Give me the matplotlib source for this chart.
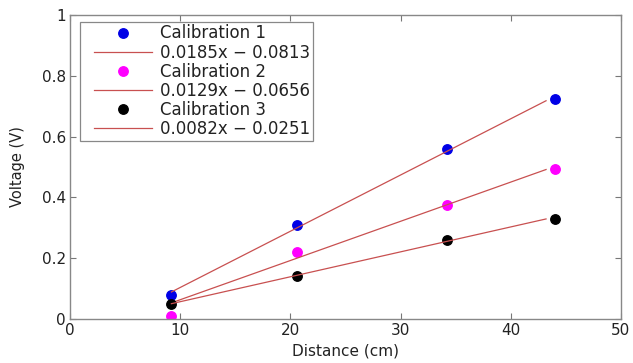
import matplotlib
matplotlib.use("Agg")
import matplotlib.pyplot as plt
from matplotlib.lines import Line2D
from matplotlib.legend_handler import HandlerLine2D
import numpy as np

plt.rcParams['font.family'] = ['DejaVu Sans']

distance = [9.2, 20.6, 34.2, 44.0]
cal1 = [0.08, 0.31, 0.56, 0.725]
cal2 = [0.01, 0.22, 0.375, 0.495]
cal3 = [0.05, 0.14, 0.26, 0.33]
slopes = [0.0185, 0.0129, 0.0082]
intercepts = [-0.0813, -0.0656, -0.0251]
fit_range = [9.2, 43.2]
names = ['Calibration 1', 'Calibration 2', 'Calibration 3']
fit_labels = ['0.0185x \u2212 0.0813', '0.0129x \u2212 0.0656', '0.0082x \u2212 0.0251']
colors = ['#0000e6', '#ff00ff', '#000000']

fig = plt.figure(figsize=(6.33, 3.63), dpi=100)
ax = fig.add_axes([0.1106, 0.1212, 0.8704, 0.8375])

fitcol = '#c85050'
handles = []
for ys, m, b, nm, fl, c in zip([cal1, cal2, cal3], slopes, intercepts, names, fit_labels, colors):
    h1, = ax.plot(distance, ys, 'o', color=c, markersize=6.8, linestyle='none', label=nm)
    xf = np.array(fit_range)
    h2, = ax.plot(xf, m * xf + b, '-', color=fitcol, linewidth=0.9, label=fl)
    handles += [h1, h2]

ax.set_xlim(0, 50)
ax.set_ylim(0, 1)
ax.set_xticks([0, 10, 20, 30, 40, 50])
ax.set_yticks([0, 0.2, 0.4, 0.6, 0.8, 1])
ax.set_yticklabels(['0', '0.2', '0.4', '0.6', '0.8', '1'])
ax.tick_params(direction='in', top=True, right=True, labelsize=11, colors='#777777',
               labelcolor='#222222', length=4, width=0.8, pad=3)
for s in ax.spines.values():
    s.set_color('#888888')
    s.set_linewidth(1.0)
ax.set_xlabel('Distance (cm)', fontsize=11, color='#222222', labelpad=4)
ax.set_ylabel('Voltage (V)', fontsize=10.5, color='#222222', labelpad=12)

leg = ax.legend(handles=handles, loc='upper left', bbox_to_anchor=(0.018, 0.977),
                fontsize=12, handlelength=4.2, handletextpad=0.45, labelspacing=0.07,
                borderpad=0.15, borderaxespad=0, fancybox=False, framealpha=1,
                edgecolor='#888888',
                handler_map={Line2D: HandlerLine2D(xpad=0.7)})
leg.get_frame().set_linewidth(0.9)
for t in leg.get_texts():
    t.set_color('#222222')

fig.savefig('out.png', dpi=100)
